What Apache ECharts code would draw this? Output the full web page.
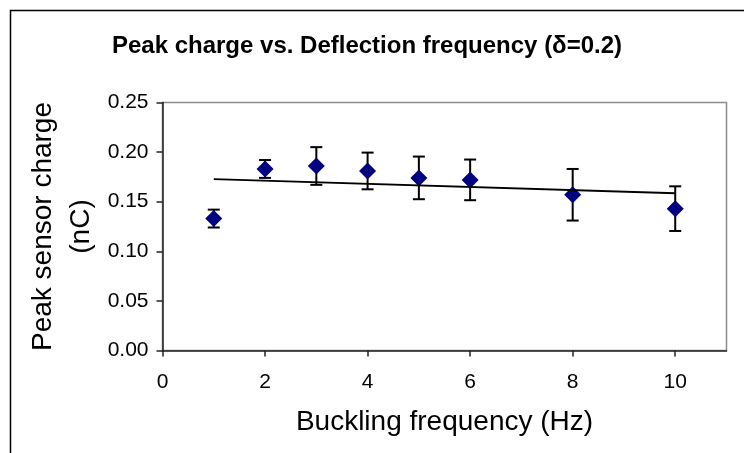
<!DOCTYPE html>
<html>
<head>
<meta charset="utf-8">
<script src="https://cdn.jsdelivr.net/npm/echarts@6/dist/echarts.min.js"></script>
<style>
  html, body { margin: 0; padding: 0; background: #fff; }
  #chart { width: 744px; height: 453px; }
</style>
</head>
<body>
<div id="chart"></div>
<script>
// Buckling frequency (Hz) of each measurement
const frequencies = [1, 2, 3, 4, 5, 6, 8, 10];
// Mean peak sensor charge (nC)
const peakCharge = [0.133, 0.183, 0.186, 0.181, 0.174, 0.172, 0.157, 0.143];
// Half-width of each error bar (nC)
const chargeError = [0.009, 0.009, 0.019, 0.0185, 0.0215, 0.0205, 0.026, 0.0225];
// Linear trendline end points
const trendX = [1, 10];
const trendY = [0.1728, 0.1585];
// Axis tick values
const xTicks = [0, 2, 4, 6, 8, 10];
const yTicks = [0, 0.05, 0.10, 0.15, 0.20, 0.25];

const FONT = '"Liberation Sans", Arial, sans-serif';

const chart = echarts.init(document.getElementById('chart'), null, { renderer: 'canvas' });

const points = frequencies.map((f, i) => [f, peakCharge[i]]);
const errorBars = frequencies.map((f, i) => [f, peakCharge[i] - chargeError[i], peakCharge[i] + chargeError[i]]);
const trendLine = trendX.map((x, i) => [x, trendY[i]]);

function renderErrorBar(params, api) {
  const x = api.value(0);
  const lo = api.coord([x, api.value(1)]);
  const hi = api.coord([x, api.value(2)]);
  const hw = 6;
  const style = { stroke: '#000', lineWidth: 2 };
  return {
    type: 'group',
    children: [
      { type: 'line', shape: { x1: lo[0], y1: lo[1], x2: hi[0], y2: hi[1] }, style },
      { type: 'line', shape: { x1: hi[0] - hw, y1: hi[1], x2: hi[0] + hw, y2: hi[1] }, style },
      { type: 'line', shape: { x1: lo[0] - hw, y1: lo[1], x2: lo[0] + hw, y2: lo[1] }, style }
    ]
  };
}

chart.setOption({
  animation: false,
  backgroundColor: '#fff',
  title: {
    text: 'Peak charge vs. Deflection frequency (δ=0.2)',
    left: 362,
    top: 29,
    textAlign: 'center',
    textStyle: { fontFamily: FONT, fontSize: 24, fontWeight: 'bold', color: '#000' }
  },
  graphic: [{
    type: 'rect',
    silent: true,
    shape: { x: 10.5, y: 10.5, width: 800, height: 600 },
    style: { fill: 'none', stroke: '#000', lineWidth: 1.5 }
  }],
  grid: {
    left: 162.5, top: 102.5, right: 17.5, bottom: 102.5,
    show: true, borderColor: '#8c8c8c', borderWidth: 1.5, backgroundColor: 'transparent'
  },
  xAxis: {
    type: 'value',
    min: 0, max: 11, interval: 2,
    name: 'Buckling frequency (Hz)',
    nameLocation: 'middle',
    nameGap: 58,
    nameTextStyle: { fontFamily: FONT, fontSize: 28, color: '#000' },
    axisLine: { show: true, onZero: false, lineStyle: { color: '#222', width: 1.5 } },
    axisTick: { show: true, length: 6, customValues: xTicks, lineStyle: { color: '#222', width: 1.5 } },
    axisLabel: { customValues: xTicks, margin: 21, fontFamily: FONT, fontSize: 21, color: '#000' },
    splitLine: { show: false }
  },
  yAxis: {
    type: 'value',
    min: 0, max: 0.25, interval: 0.05,
    name: 'Peak sensor charge\n(nC)',
    nameLocation: 'middle',
    nameRotate: 90,
    nameGap: 62,
    nameMoveOverlap: false,
    nameTextStyle: { fontFamily: FONT, fontSize: 28, color: '#000', lineHeight: 38 },
    axisLine: { show: true, lineStyle: { color: '#222', width: 1.5 } },
    axisTick: { show: true, length: 6, lineStyle: { color: '#222', width: 1.5 } },
    axisLabel: {
      margin: 14, fontFamily: FONT, fontSize: 21, color: '#000',
      formatter: v => v.toFixed(2)
    },
    splitLine: { show: false }
  },
  series: [
    {
      type: 'custom',
      name: 'error',
      renderItem: renderErrorBar,
      data: errorBars,
      encode: { x: 0, y: [1, 2] },
      z: 2
    },
    {
      type: 'scatter',
      name: 'charge',
      data: points,
      symbol: 'diamond',
      symbolSize: 17,
      itemStyle: { color: '#000080', opacity: 1 },
      z: 3
    },
    {
      type: 'line',
      name: 'trend',
      data: trendLine,
      showSymbol: false,
      symbol: 'none',
      lineStyle: { color: '#000', width: 1.8 },
      z: 4
    }
  ]
});
</script>
</body>
</html>
